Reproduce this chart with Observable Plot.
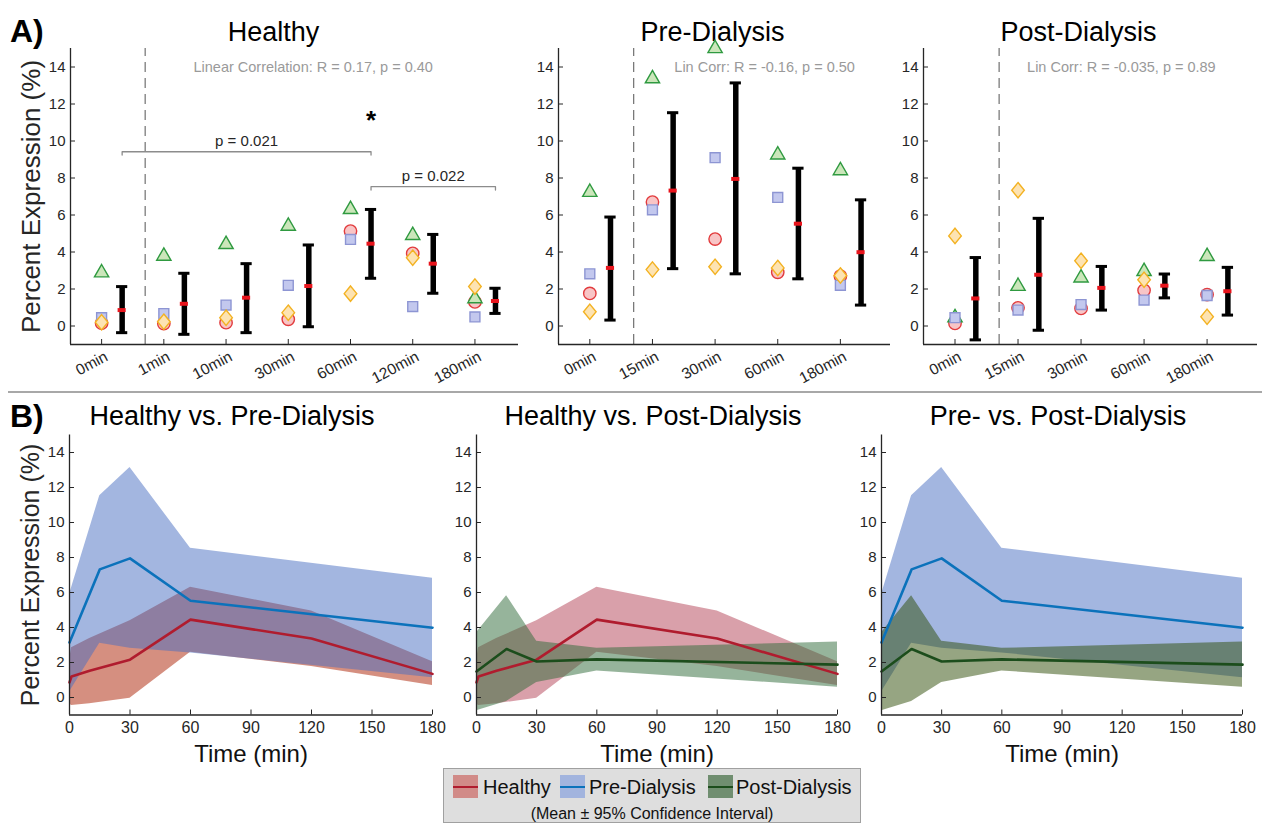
<!DOCTYPE html>
<html>
<head>
<meta charset="utf-8">
<script src="https://cdn.jsdelivr.net/npm/d3@7"></script>
<script src="https://cdn.jsdelivr.net/npm/@observablehq/plot@0.6"></script>
<style>
  body { margin: 0; background: #fff; }
  #root { position: relative; width: 1266px; height: 825px; overflow: hidden; background: #fff;
          font-family: "Liberation Sans", Arial, Helvetica, sans-serif; color: #000; }
  .pane { position: absolute; }
  .pane svg { display: block; max-width: none !important; }
  .abs { position: absolute; white-space: nowrap; line-height: 1; }
</style>
</head>
<body>
<div id="root"></div>
<script>
// ---------------- DATA ----------------
const Y_DOMAIN = [-1, 15];
const Y_TICKS = [0, 2, 4, 6, 8, 10, 12, 14];
const TIME_TICKS = [0, 30, 60, 90, 120, 150, 180];

// Healthy
const healthyLabels = ["0min", "1min", "10min", "30min", "60min", "120min", "180min"];
const healthyMinutes = [0, 1, 10, 30, 60, 120, 180];
const healthyCircle   = [0.15, 0.13, 0.18, 0.36, 5.13, 3.93, 1.30];
const healthySquare   = [0.45, 0.67, 1.13, 2.20, 4.68, 1.05, 0.49];
const healthyTriangle = [2.88, 3.78, 4.41, 5.40, 6.30, 4.90, 1.48];
const healthyDiamond  = [0.20, 0.23, 0.45, 0.72, 1.75, 3.69, 2.13];
const healthyMean  = [0.86, 1.20, 1.53, 2.16, 4.45, 3.37, 1.35];
const healthyLower = [-0.36, -0.45, -0.36, -0.04, 2.58, 1.77, 0.68];
const healthyUpper = [2.13, 2.85, 3.37, 4.38, 6.30, 4.95, 2.04];
const healthyCorr = "Linear Correlation: R = 0.17, p = 0.40";

// Pre-Dialysis
const preLabels = ["0min", "15min", "30min", "60min", "180min"];
const preMinutes = [0, 15, 30, 60, 180];
const preCircle   = [1.76, 6.70, 4.70, 2.90, 2.70];
const preSquare   = [2.82, 6.28, 9.10, 6.95, 2.20];
const preTriangle = [7.23, 13.37, 15.00, 9.25, 8.40];
const preDiamond  = [0.77, 3.05, 3.20, 3.14, 2.73];
const preMean  = [3.14, 7.32, 7.95, 5.53, 3.99];
const preLower = [0.32, 3.10, 2.82, 2.55, 1.13];
const preUpper = [5.89, 11.53, 13.14, 8.53, 6.82];
const preCorr = "Lin Corr: R = -0.16, p = 0.50";

// Post-Dialysis
const postLabels = ["0min", "15min", "30min", "60min", "180min"];
const postMinutes = [0, 15, 30, 60, 180];
const postCircle   = [0.14, 0.98, 0.95, 1.93, 1.70];
const postSquare   = [0.45, 0.86, 1.16, 1.40, 1.65];
const postTriangle = [0.45, 2.15, 2.60, 2.95, 3.76];
const postDiamond  = [4.87, 7.34, 3.53, 2.50, 0.50];
const postMean  = [1.49, 2.77, 2.06, 2.18, 1.88];
const postLower = [-0.75, -0.23, 0.86, 1.52, 0.59];
const postUpper = [3.70, 5.82, 3.22, 2.81, 3.17];
const postCorr = "Lin Corr: R = -0.035, p = 0.89";

// significance brackets (category indices, bracket level)
const healthyBrackets = [
  {from: 0, to: 4, level: 9.42, label: "p = 0.021"},
  {from: 4, to: 6, level: 7.53, label: "p = 0.022"}
];
const healthyStars = [{at: 4, level: 11.35, label: "*"}];

const legendItems = ["Healthy", "Pre-Dialysis", "Post-Dialysis"];
const legendNote = "(Mean ± 95% Confidence Interval)";

// ---------------- STYLE ----------------
const FONT = "Liberation Sans, Arial, Helvetica, sans-serif";
const INK = "#262626";
const ERR_OFFSET = 0.33;
const RED_LINE = "#b01c2e", BLUE_LINE = "#0b72bb", GREEN_LINE = "#1c4d1c";
const BLUE_FILL = "rgb(71,109,193)";

const diamondSymbol = {
  draw(context, size) {
    const r = Math.sqrt(size / Math.PI);
    const w = r * 1.05, h = r * 1.28;
    context.moveTo(0, -h); context.lineTo(w, 0); context.lineTo(0, h); context.lineTo(-w, 0); context.closePath();
  }
};

const root = document.getElementById("root");
function place(node, left, top) {
  const d = document.createElement("div");
  d.className = "pane";
  d.style.left = left + "px"; d.style.top = top + "px";
  d.appendChild(node);
  root.appendChild(d);
}
function addText(txt, left, top, css) {
  const d = document.createElement("div");
  d.className = "abs";
  d.textContent = txt;
  d.style.left = left + "px"; d.style.top = top + "px";
  Object.assign(d.style, css || {});
  root.appendChild(d);
  return d;
}

function yAxisMarks(xDomain, showLabel, labelSize) {
  const m = [
    Plot.axisY({ticks: Y_TICKS, label: null, tickSize: 0, tickPadding: 5, fontSize: 15, color: INK}),
    Plot.axisY({ticks: Y_TICKS, label: null, tickSize: 5, dx: 5, tickFormat: () => "", color: INK}),
    Plot.ruleX([xDomain[0]], {stroke: INK, strokeWidth: 1.3}),
    Plot.ruleY([Y_DOMAIN[0]], {stroke: INK, strokeWidth: 1.3})
  ];
  if (showLabel) m.push(Plot.text(["Percent Expression (%)"], {text: d => d, frameAnchor: "left", textAnchor: "middle", lineAnchor: "middle", dx: -39, rotate: -90, fontSize: labelSize, fill: INK}));
  return m;
}

function makeA(cfg) {
  const n = cfg.labels.length;
  const idx = d3.range(1, n + 1);
  const donors = [
    {vals: cfg.circle,   symbol: "circle",   r: 6.2, stroke: "#e23b3d", fill: "#f8c5c6"},
    {vals: cfg.triangle, symbol: "triangle", r: 5.3, stroke: "#2f9a40", fill: "#cbe6ba"},
    {vals: cfg.square,   symbol: "square",   r: 5.6, stroke: "#8d95d3", fill: "#c3c8ee"},
    {vals: cfg.diamond,  symbol: diamondSymbol, r: 6.0, stroke: "#f3b222", fill: "#fde3b2"}
  ];
  const err = idx.map((i, k) => ({x: i + ERR_OFFSET, m: cfg.mean[k], lo: cfg.lower[k], hi: cfg.upper[k]}));
  const marks = [
    Plot.ruleX([cfg.dashAt], {y1: Y_DOMAIN[0], y2: Y_DOMAIN[1], stroke: "#707070", strokeWidth: 1.2, strokeDasharray: "10,6"}),
    ...yAxisMarks(cfg.xDomain, cfg.yLabel, 26),
    Plot.axisX({ticks: idx, label: null, tickFormat: i => cfg.labels[i - 1], tickRotate: -28, tickSize: 0, tickPadding: 11, dx: 5, fontSize: 15.5, color: INK}),
    Plot.axisX({ticks: idx, label: null, tickSize: 5, dy: -5, tickFormat: () => "", color: INK}),
    Plot.text([cfg.title], {text: d => d, frameAnchor: "top", lineAnchor: "middle", dy: -16, dx: cfg.titleDx, fontSize: 27, fill: "#000"}),
    Plot.text([cfg.corr], {text: d => d, x: cfg.corrX, y: 14, fontSize: 14.5, fill: "#9a9a9a"})
  ];
  donors.forEach(dn => {
    marks.push(Plot.dot(idx.map((i, k) => ({x: i, y: dn.vals[k]})), {
      x: "x", y: "y", symbol: dn.symbol, r: dn.r, stroke: dn.stroke, fill: dn.fill, strokeWidth: 1.4
    }));
  });
  marks.push(
    Plot.ruleX(err, {x: "x", y1: "lo", y2: "hi", stroke: "#000", strokeWidth: 5.5}),
    Plot.ruleY(err, {y: "hi", x1: d => d.x - 0.09, x2: d => d.x + 0.09, stroke: "#000", strokeWidth: 3}),
    Plot.ruleY(err, {y: "lo", x1: d => d.x - 0.09, x2: d => d.x + 0.09, stroke: "#000", strokeWidth: 3}),
    Plot.ruleY(err, {y: "m", x1: d => d.x - 0.065, x2: d => d.x + 0.065, stroke: "#e8141c", strokeWidth: 4})
  );
  (cfg.brackets || []).forEach(b => {
    const x1 = b.from + 1 + ERR_OFFSET, x2 = b.to + 1 + ERR_OFFSET;
    const pts = [[x1, b.level - 0.18], [x1, b.level], [x2, b.level], [x2, b.level - 0.18]];
    marks.push(Plot.line(pts, {stroke: "#8c8c8c", strokeWidth: 1.3}));
    marks.push(Plot.text([b], {x: d => (x1 + x2) / 2, y: "level", text: "label", dy: -11, fontSize: 15, fill: INK}));
  });
  (cfg.stars || []).forEach(s => {
    marks.push(Plot.text([s], {x: d => d.at + 1 + ERR_OFFSET, y: "level", text: "label", fontSize: 26, fontWeight: "bold", fill: "#000", dy: 5}));
  });
  return Plot.plot({
    width: cfg.width, height: 392,
    marginTop: 48, marginBottom: 48, marginLeft: cfg.mL, marginRight: cfg.mR,
    x: {domain: cfg.xDomain, axis: null},
    y: {domain: Y_DOMAIN, axis: null},
    style: {fontFamily: FONT, background: "transparent", overflow: "visible"},
    marks
  });
}

function makeB(cfg) {
  const marks = [];
  cfg.series.forEach(s => {
    const rows = s.minutes.map((t, k) => ({t, lo: s.lower[k], hi: s.upper[k]}));
    marks.push(Plot.areaY(rows, {x: "t", y1: "lo", y2: "hi", fill: s.fill, fillOpacity: s.opacity}));
  });
  cfg.series.forEach(s => {
    const rows = s.minutes.map((t, k) => ({t, m: s.mean[k]}));
    marks.push(Plot.lineY(rows, {x: "t", y: "m", stroke: s.line, strokeWidth: 2.6}));
  });
  marks.push(
    ...yAxisMarks([0, 180], cfg.yLabel, 25),
    Plot.axisX({ticks: TIME_TICKS, label: null, tickSize: 0, tickPadding: 7, fontSize: 16, color: INK}),
    Plot.axisX({ticks: TIME_TICKS, label: null, tickSize: 5, dy: -5, tickFormat: () => "", color: INK}),
    Plot.text(["Time (min)"], {text: d => d, frameAnchor: "bottom", lineAnchor: "middle", dy: 39, fontSize: 24, fill: "#111"}),
    Plot.text([cfg.title], {text: d => d, frameAnchor: "top", lineAnchor: "middle", dy: -19, dx: cfg.titleDx, fontSize: 27, fill: "#000"})
  );
  return Plot.plot({
    width: cfg.width, height: 375,
    marginTop: 39.5, marginBottom: 55.5, marginLeft: cfg.mL, marginRight: cfg.mR,
    x: {domain: [0, 180], axis: null},
    y: {domain: Y_DOMAIN, axis: null},
    style: {fontFamily: FONT, background: "transparent", overflow: "visible"},
    marks
  });
}

// ---------------- PANELS A ----------------
place(makeA({
  labels: healthyLabels, circle: healthyCircle, square: healthySquare, triangle: healthyTriangle, diamond: healthyDiamond,
  mean: healthyMean, lower: healthyLower, upper: healthyUpper,
  xDomain: [0.5, 7.7], dashAt: 1.7, width: 525, mL: 70, mR: 7,
  title: "Healthy", titleDx: -21, corr: healthyCorr, corrX: 4.4, yLabel: true,
  brackets: healthyBrackets, stars: healthyStars
}), 0, 0);

place(makeA({
  labels: preLabels, circle: preCircle, square: preSquare, triangle: preTriangle, diamond: preDiamond,
  mean: preMean, lower: preLower, upper: preUpper,
  xDomain: [0.5, 5.8], dashAt: 1.7, width: 373, mL: 33, mR: 8,
  title: "Pre-Dialysis", titleDx: -12, corr: preCorr, corrX: 3.79, yLabel: false
}), 525, 0);

place(makeA({
  labels: postLabels, circle: postCircle, square: postSquare, triangle: postTriangle, diamond: postDiamond,
  mean: postMean, lower: postLower, upper: postUpper,
  xDomain: [0.5, 5.8], dashAt: 1.7, width: 368, mL: 25, mR: 9,
  title: "Post-Dialysis", titleDx: -12, corr: postCorr, corrX: 3.64, yLabel: false
}), 898, 0);

// ---------------- PANELS B ----------------
const healthySeries = (fill, opacity) => ({minutes: healthyMinutes, mean: healthyMean, lower: healthyLower, upper: healthyUpper, fill, opacity, line: RED_LINE});
const preSeries = (fill, opacity) => ({minutes: preMinutes, mean: preMean, lower: preLower, upper: preUpper, fill, opacity, line: BLUE_LINE});
const postSeries = (fill, opacity) => ({minutes: postMinutes, mean: postMean, lower: postLower, upper: postUpper, fill, opacity, line: GREEN_LINE});

place(makeB({
  title: "Healthy vs. Pre-Dialysis", titleDx: -19, width: 450, mL: 69, mR: 18, yLabel: true,
  series: [healthySeries("rgb(171,31,1)", 0.5), preSeries(BLUE_FILL, 0.5)]
}), 0, 395);

place(makeB({
  title: "Healthy vs. Post-Dialysis", titleDx: -4, width: 410, mL: 26, mR: 23, yLabel: false,
  series: [healthySeries("rgb(179,65,85)", 0.5), postSeries("rgb(45,105,55)", 0.5)]
}), 450, 395);

place(makeB({
  title: "Pre- vs. Post-Dialysis", titleDx: -4, width: 406, mL: 21, mR: 24, yLabel: false,
  series: [preSeries(BLUE_FILL, 0.5), postSeries("rgb(45,75,5)", 0.5)]
}), 860, 395);

// ---------------- DECORATION ----------------
addText("A)", 10, 15, {fontSize: "32px", fontWeight: "bold"});
addText("B)", 10, 400, {fontSize: "32px", fontWeight: "bold"});
const sep = document.createElement("div");
Object.assign(sep.style, {position: "absolute", left: "8px", top: "391px", width: "1254px", height: "2px", background: "#a8a8a8"});
root.appendChild(sep);

// ---------------- LEGEND ----------------
const legend = document.createElement("div");
Object.assign(legend.style, {position: "absolute", left: "443px", top: "768px", width: "416px", height: "53px",
  background: "#dedede", border: "1px solid #a0a0a0"});
root.appendChild(legend);
const swatchFill = ["rgb(209,139,136)", "rgb(162,180,222)", "rgb(112,142,112)"];
const swatchLine = [RED_LINE, BLUE_LINE, GREEN_LINE];
const swLeft = [9, 116, 264], txLeft = [39, 145, 292];
legendItems.forEach((name, i) => {
  const sw = document.createElement("div");
  Object.assign(sw.style, {position: "absolute", left: swLeft[i] + "px", top: "6px", width: "25px", height: "23px", background: swatchFill[i]});
  const ln = document.createElement("div");
  Object.assign(ln.style, {position: "absolute", left: "0px", top: "10.5px", width: "25px", height: "2px", background: swatchLine[i]});
  sw.appendChild(ln);
  legend.appendChild(sw);
  const t = document.createElement("div");
  t.className = "abs"; t.textContent = name;
  Object.assign(t.style, {left: txLeft[i] + "px", top: "8px", fontSize: "20px", color: "#111"});
  legend.appendChild(t);
});
const note = document.createElement("div");
note.className = "abs"; note.textContent = legendNote;
Object.assign(note.style, {left: "0px", width: "416px", textAlign: "center", top: "37px", fontSize: "16px", color: "#111"});
legend.appendChild(note);
</script>
</body>
</html>
